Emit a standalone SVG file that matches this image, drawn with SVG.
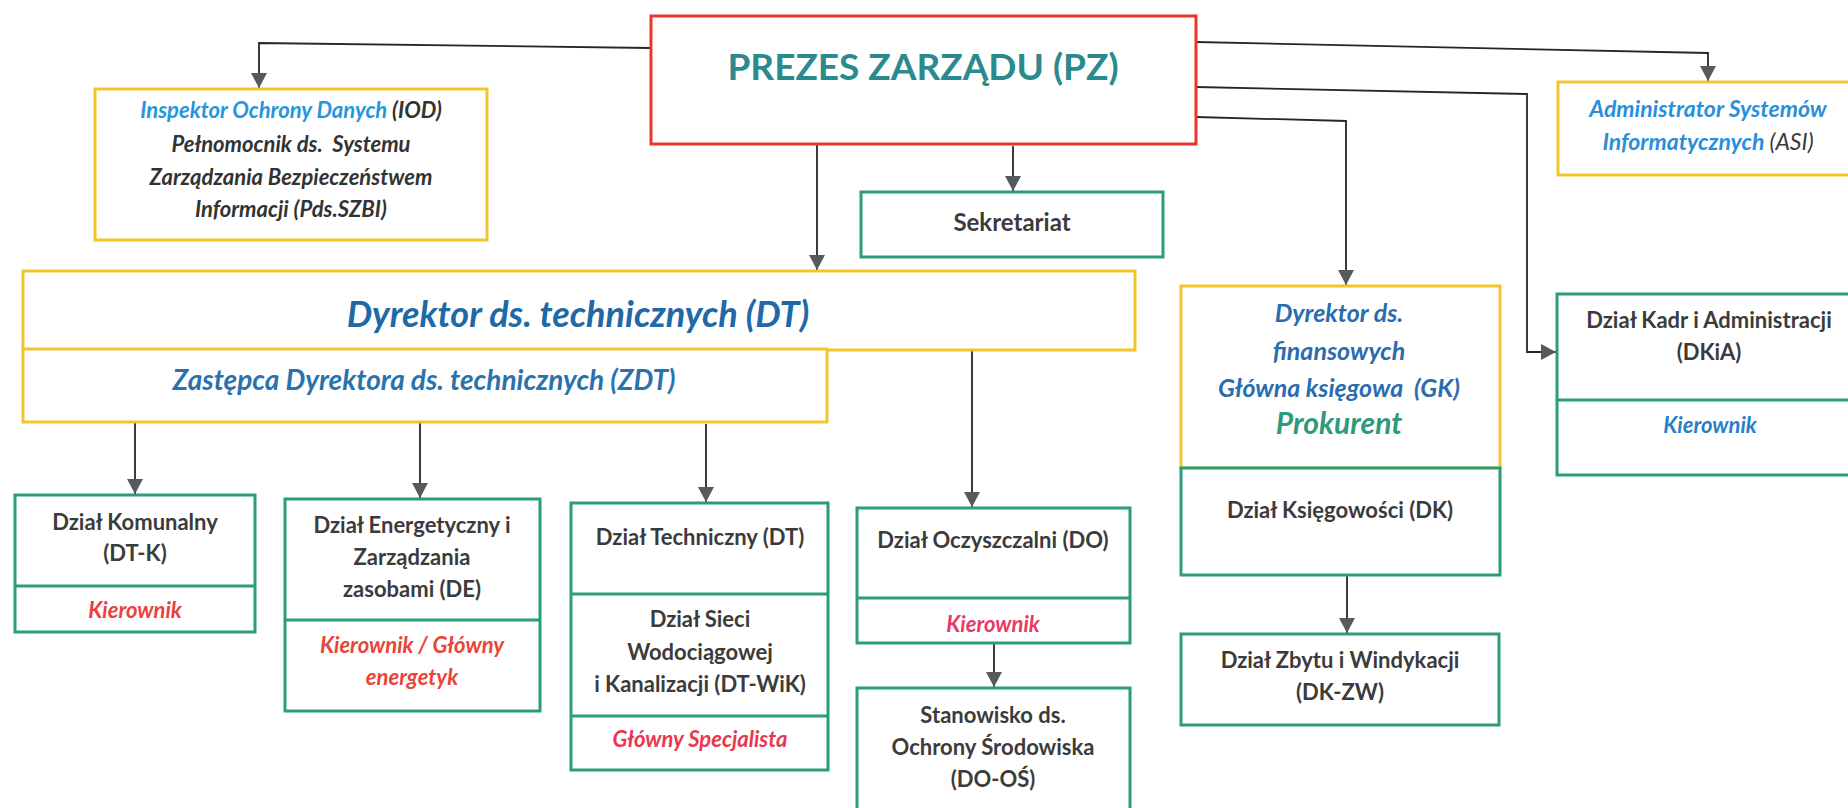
<svg xmlns="http://www.w3.org/2000/svg" width="1848" height="808" viewBox="0 0 1848 808">
<style>
  .bg{fill:#ffffff}
  .y{fill:#ffffff;stroke:#f2c52c;stroke-width:3}
  .g{fill:#ffffff;stroke:#2b9e78;stroke-width:3}
  .r{fill:#ffffff;stroke:#e8352e;stroke-width:3}
  .dv{stroke:#2b9e78;stroke-width:3}
  text{font-family:Lato,"Liberation Sans",sans-serif;text-anchor:middle;white-space:pre}
  .t{font-size:22px;font-weight:700;fill:#3b3b3b}
  .red{font-size:22px;font-weight:700;font-style:italic;fill:#e8423f}
  .pink{font-size:22px;font-weight:700;font-style:italic;fill:#e83a68}
  .blu{font-size:22px;font-weight:700;font-style:italic;fill:#2a7fc4}
  .iod{font-size:22px;font-weight:700;font-style:italic;fill:#333333}
  .lb{fill:#2596dd}
  .dtt{font-weight:700;font-style:italic;fill:#2068a6}
  .df{font-size:25px;font-weight:700;font-style:italic;fill:#2a6cb0}
  .conn{fill:none;stroke:#262626;stroke-width:1.8}
</style>
<defs>
  <marker id="ah" markerUnits="userSpaceOnUse" markerWidth="16" markerHeight="16" viewBox="0 0 16 16" refX="15" refY="8" orient="auto">
    <path d="M0,0 L15,8 L0,16 z" fill="#555a5e"/>
  </marker>
</defs>
<rect class="bg" x="0" y="0" width="1848" height="808"/>

<g id="connectors">
  <polyline class="conn" points="651,48 259,43 259,88" marker-end="url(#ah)"/>
  <polyline class="conn" points="1196,42 1708,53 1708,81" marker-end="url(#ah)"/>
  <polyline class="conn" points="1196,87 1527,94 1527,352 1556,352" marker-end="url(#ah)"/>
  <polyline class="conn" points="1196,117 1346,121 1346,285" marker-end="url(#ah)"/>
  <polyline class="conn" points="817,144 817,270" marker-end="url(#ah)"/>
  <polyline class="conn" points="1013,146 1013,191" marker-end="url(#ah)"/>
  <polyline class="conn" points="135,422 135,494" marker-end="url(#ah)"/>
  <polyline class="conn" points="420,422 420,498" marker-end="url(#ah)"/>
  <polyline class="conn" points="706,424 706,502" marker-end="url(#ah)"/>
  <polyline class="conn" points="972,350 972,507" marker-end="url(#ah)"/>
  <polyline class="conn" points="994,643 994,687" marker-end="url(#ah)"/>
  <polyline class="conn" points="1347,575 1347,633" marker-end="url(#ah)"/>
</g>

<g id="pz">
  <rect class="r" x="651" y="16" width="545" height="128"/>
  <text x="923" y="80" style="font-size:37px;font-weight:700;fill:#2b8a8e">PREZES ZARZĄDU (PZ)</text>
</g>

<g id="iod">
  <rect class="y" x="95" y="89" width="392" height="151"/>
  <text class="iod" x="291" y="118"><tspan class="lb">Inspektor Ochrony Danych</tspan> (IOD)</text>
  <text class="iod" x="291" y="152" xml:space="preserve">Pełnomocnik ds.  Systemu</text>
  <text class="iod" x="291" y="185">Zarządzania Bezpieczeństwem</text>
  <text class="iod" x="291" y="217">Informacji (Pds.SZBI)</text>
</g>

<g id="asi">
  <rect class="y" x="1558" y="82" width="310" height="93"/>
  <text x="1708" y="117" style="font-size:23px;font-weight:700;font-style:italic;fill:#2a8fd9">Administrator Systemów</text>
  <text x="1708" y="150" style="font-size:23px;font-weight:700;font-style:italic;fill:#2a8fd9">Informatycznych <tspan style="font-weight:400;fill:#3b3b3b">(ASI)</tspan></text>
</g>

<g id="sekretariat">
  <rect class="g" x="861" y="192" width="302" height="65"/>
  <text class="t" x="1012" y="231" style="font-size:24px">Sekretariat</text>
</g>

<g id="dt">
  <rect class="y" x="23" y="271" width="1112" height="79"/>
  <text class="dtt" x="578" y="327" style="font-size:36px">Dyrektor ds. technicznych (DT)</text>
</g>

<g id="zdt">
  <rect class="y" x="23" y="349" width="804" height="73"/>
  <text class="dtt" x="424" y="390" style="font-size:28px;fill:#2a72ae">Zastępca Dyrektora ds. technicznych (ZDT)</text>
</g>

<g id="df">
  <rect class="y" x="1181" y="286" width="319" height="182"/>
  <text class="df" x="1339" y="322">Dyrektor ds.</text>
  <text class="df" x="1339" y="360">finansowych</text>
  <text class="df" x="1339" y="397" xml:space="preserve">Główna księgowa  (GK)</text>
  <text x="1339" y="434" style="font-size:30px;font-weight:700;font-style:italic;fill:#2e9a7c">Prokurent</text>
</g>

<g id="dk">
  <rect class="g" x="1181" y="468" width="319" height="107"/>
  <text class="t" x="1340" y="518">Dział Księgowości (DK)</text>
</g>

<g id="dkzw">
  <rect class="g" x="1181" y="634" width="318" height="91"/>
  <text class="t" x="1340" y="668">Dział Zbytu i Windykacji</text>
  <text class="t" x="1340" y="700">(DK-ZW)</text>
</g>

<g id="dkia">
  <rect class="g" x="1557" y="294" width="310" height="181"/>
  <line class="dv" x1="1557" y1="400" x2="1867" y2="400"/>
  <text class="t" x="1709" y="328">Dział Kadr i Administracji</text>
  <text class="t" x="1709" y="360">(DKiA)</text>
  <text class="blu" x="1710" y="433">Kierownik</text>
</g>

<g id="dtk">
  <rect class="g" x="15" y="495" width="240" height="137"/>
  <line class="dv" x1="15" y1="586" x2="255" y2="586"/>
  <text class="t" x="135" y="530">Dział Komunalny</text>
  <text class="t" x="135" y="561">(DT-K)</text>
  <text class="red" x="135" y="618">Kierownik</text>
</g>

<g id="de">
  <rect class="g" x="285" y="499" width="255" height="212"/>
  <line class="dv" x1="285" y1="620" x2="540" y2="620"/>
  <text class="t" x="412" y="533">Dział Energetyczny i</text>
  <text class="t" x="412" y="565">Zarządzania</text>
  <text class="t" x="412" y="597">zasobami (DE)</text>
  <text class="red" x="412" y="653" style="fill:#e8443a">Kierownik / Główny</text>
  <text class="red" x="412" y="685" style="fill:#e8443a">energetyk</text>
</g>

<g id="dtech">
  <rect class="g" x="571" y="503" width="257" height="267"/>
  <line class="dv" x1="571" y1="594" x2="828" y2="594"/>
  <line class="dv" x1="571" y1="716" x2="828" y2="716"/>
  <text class="t" x="700" y="545">Dział Techniczny (DT)</text>
  <text class="t" x="700" y="627">Dział Sieci</text>
  <text class="t" x="700" y="660">Wodociągowej</text>
  <text class="t" x="700" y="692">i Kanalizacji (DT-WiK)</text>
  <text class="pink" x="700" y="747" style="fill:#e8384f">Główny Specjalista</text>
</g>

<g id="do">
  <rect class="g" x="857" y="508" width="273" height="135"/>
  <line class="dv" x1="857" y1="598" x2="1130" y2="598"/>
  <text class="t" x="993" y="548">Dział Oczyszczalni (DO)</text>
  <text class="pink" x="993" y="632">Kierownik</text>
</g>

<g id="doos">
  <rect class="g" x="857" y="688" width="273" height="140"/>
  <text class="t" x="993" y="723">Stanowisko ds.</text>
  <text class="t" x="993" y="755">Ochrony Środowiska</text>
  <text class="t" x="993" y="787">(DO-OŚ)</text>
</g>
</svg>
